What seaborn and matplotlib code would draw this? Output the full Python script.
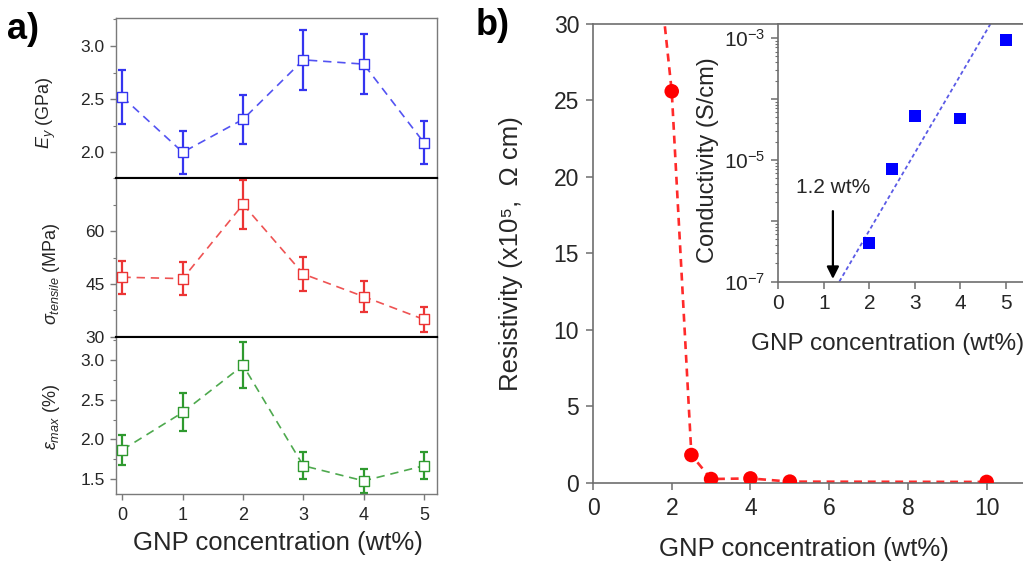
import numpy as np
import pandas as pd
import matplotlib
matplotlib.use('Agg')
import matplotlib.pyplot as plt
import seaborn as sns
from matplotlib.ticker import MultipleLocator, LogLocator, NullFormatter, FuncFormatter

sns.set_theme(style='ticks')
plt.rcParams['font.family'] = ['Liberation Sans', 'DejaVu Sans']
plt.rcParams['mathtext.fontset'] = 'custom'
plt.rcParams['mathtext.rm'] = 'Liberation Sans'
plt.rcParams['mathtext.it'] = 'Liberation Sans:italic'
plt.rcParams['mathtext.bf'] = 'Liberation Sans:bold'

# ---------------- data ----------------
gnp_a = [0, 1, 2, 3, 4, 5]
ey = [2.52, 2.00, 2.31, 2.87, 2.83, 2.09]
ey_err = [0.25, 0.20, 0.23, 0.28, 0.28, 0.20]
sigma = [46.9, 46.5, 67.6, 47.8, 41.4, 34.9]
sigma_err = [4.7, 4.6, 7.0, 4.8, 4.3, 3.5]
eps = [1.87, 2.34, 2.93, 1.67, 1.48, 1.67]
eps_err = [0.19, 0.24, 0.29, 0.17, 0.15, 0.17]

gnp_res = [1.0, 2.0, 2.5, 3.0, 4.0, 5.0, 10.0]
resistivity = [50.0, 25.6, 1.81, 0.24, 0.28, 0.07, 0.05]

gnp_cond = [2.0, 2.5, 3.0, 4.0, 5.0]
conductivity = [4.3e-7, 7.1e-6, 5.2e-5, 4.8e-5, 9.2e-4]
fit_x = [1.34, 4.7]
fit_cond = [1.0e-7, 1.9e-3]
threshold = 1.2

a_xticks = [0, 1, 2, 3, 4, 5]
b_xticks = [0, 2, 4, 6, 8, 10]
b_yticks = [0, 5, 10, 15, 20, 25, 30]
in_xticks = [0, 1, 2, 3, 4, 5]

# ---------------- layout ----------------
W, H = 1023, 561
fig = plt.figure(figsize=(W / 100, H / 100), dpi=100)


def rect(l, t, r, b):
    return [l / W, 1 - b / H, (r - l) / W, (b - t) / H]


SP = '#7a7a7a'
TXT = '#262626'

ax1 = fig.add_axes(rect(115.8, 18, 437, 178.3))
ax2 = fig.add_axes(rect(115.8, 178.3, 437, 336.7))
ax3 = fig.add_axes(rect(115.8, 336.7, 437, 494))

panels = [
    (ax1, ey, ey_err, '#3535f0', (1.755, 3.264), [2.0, 2.5, 3.0], 0.25, '$E_y$ (GPa)', (-0.18, 0.41)),
    (ax2, sigma, sigma_err, '#ec3535', (30, 75), [30, 45, 60], 7.5, r'$\sigma_{tensile}$ (MPa)', (-0.168, 0.40)),
    (ax3, eps, eps_err, '#2f9a2f', (1.315, 3.29), [1.5, 2.0, 2.5, 3.0], 0.25, r'$\varepsilon_{max}$ (%)', (-0.168, 0.49)),
]

for ax, vals, errs, col, ylim, yt, minor, lab, lc in panels:
    df = pd.DataFrame({'x': gnp_a, 'y': vals})
    ax.errorbar(gnp_a, vals, yerr=errs, fmt='none', ecolor=col, elinewidth=1.6,
                capsize=2.6, capthick=1.6, zorder=2)
    sns.lineplot(data=df, x='x', y='y', ax=ax, color=col, lw=1.2, alpha=0.85,
                 linestyle=(0, (5, 3.5)), zorder=3)
    sns.scatterplot(data=df, x='x', y='y', ax=ax, marker='s', s=52, facecolor='white',
                    edgecolor=col, linewidth=1.0, zorder=4)
    ax.set_xlim(-0.11, 5.216)
    ax.set_ylim(*ylim)
    ax.set_yticks(yt)
    ax.yaxis.set_minor_locator(MultipleLocator(minor))
    ax.set_xticks(a_xticks)
    ax.set_ylabel(lab, fontsize=13, color=TXT)
    ax.yaxis.set_label_coords(*lc)
    ax.set_xlabel('')
    for s in ax.spines.values():
        s.set_color(SP)
        s.set_linewidth(1.0)
    ax.tick_params(axis='y', which='major', direction='out', length=4, width=1, color=SP,
                   labelsize=12.5, labelcolor=TXT, pad=4)
    ax.tick_params(axis='y', which='minor', direction='out', length=2.5, width=0.8, color=SP)
    ax.tick_params(axis='x', which='major', direction='out', length=4, width=1, color=SP,
                   labelsize=13, labelcolor=TXT, pad=5)

for ax in (ax1, ax2):
    ax.tick_params(axis='x', bottom=False, labelbottom=False)
ax1.spines['bottom'].set_color('black'); ax1.spines['bottom'].set_linewidth(1.5)
ax2.spines['top'].set_color('black'); ax2.spines['top'].set_linewidth(1.5)
ax2.spines['bottom'].set_color('black'); ax2.spines['bottom'].set_linewidth(1.5)
ax3.spines['top'].set_color('black'); ax3.spines['top'].set_linewidth(1.5)

ax3.set_xlabel('GNP concentration (wt%)', fontsize=18.5, color=TXT)
ax3.xaxis.set_label_coords(0.505, -0.235)

fig.text(7 / W, 1 - 12 / H, 'a)', fontsize=26, fontweight='bold', va='top', ha='left', color='black')
fig.text(476 / W, 1 - 8 / H, 'b)', fontsize=26, fontweight='bold', va='top', ha='left', color='black')

# ---------------- panel b main ----------------
axb = fig.add_axes(rect(593, 24, 1026, 482.7))
dfr = pd.DataFrame({'x': gnp_res, 'y': resistivity})
sns.lineplot(data=dfr, x='x', y='y', ax=axb, color='#ff2a2a', lw=1.9,
             linestyle=(0, (3, 2.2)), zorder=2)
sns.scatterplot(data=dfr, x='x', y='y', ax=axb, color='#ff0000', s=110, edgecolor='none',
                marker='o', zorder=3, clip_on=True)
axb.set_xlim(0, 11)
axb.set_ylim(0, 30)
axb.set_xticks(b_xticks)
axb.set_yticks(b_yticks)
for s in axb.spines.values():
    s.set_color('#6e6e6e')
    s.set_linewidth(1.2)
axb.tick_params(direction='out', length=5, width=1.1, color='#6e6e6e', labelsize=16.5,
                labelcolor=TXT, pad=5)
axb.set_xlabel('GNP concentration (wt%)', fontsize=18.5, color=TXT)
axb.xaxis.set_label_coords(0.487, -0.118)
axb.set_ylabel('Resistivity (x10\u2075,  \u03a9 cm)', fontsize=18.5, color=TXT)
axb.yaxis.set_label_coords(-0.162, 0.5)

# ---------------- inset ----------------
axi = fig.add_axes(rect(778.3, 24, 1051.3, 281.7))
axi.set_facecolor('white')
axi.set_zorder(5)
dfc = pd.DataFrame({'x': gnp_cond, 'y': conductivity})
dff = pd.DataFrame({'x': fit_x, 'y': fit_cond})
sns.lineplot(data=dff, x='x', y='y', ax=axi, color='#5a5ae6', lw=1.3,
             linestyle=(0, (2.2, 1.6)), zorder=2)
sns.scatterplot(data=dfc, x='x', y='y', ax=axi, color='#0000ff', marker='s', s=70,
                edgecolor='none', zorder=3)
axi.set_yscale('log')
axi.set_xlim(0, 6)
axi.set_ylim(1e-7, 10 ** -2.77)
axi.set_xticks(in_xticks)
axi.yaxis.set_major_locator(LogLocator(base=10, numticks=10))
axi.yaxis.set_minor_locator(LogLocator(base=10, subs=np.arange(2, 10), numticks=20))
axi.yaxis.set_minor_formatter(NullFormatter())


def _fmt(v, pos):
    e = int(round(np.log10(v)))
    return '$10^{%d}$' % e if e % 2 != 0 else ''


axi.yaxis.set_major_formatter(FuncFormatter(_fmt))
for s in axi.spines.values():
    s.set_color('#6e6e6e')
    s.set_linewidth(1.2)
axi.tick_params(axis='both', which='major', direction='out', length=5, width=1.1,
                color='#6e6e6e', labelsize=15, labelcolor=TXT, pad=4)
axi.tick_params(axis='y', which='minor', direction='out', length=2.5, width=0.8, color='#6e6e6e')
axi.set_xlabel('GNP concentration (wt%)', fontsize=17.5, color=TXT)
axi.xaxis.set_label_coords(0.402, -0.2)
axi.set_ylabel('Conductivity (S/cm)', fontsize=17, color=TXT)
axi.yaxis.set_label_coords(-0.217, 0.472)

axi.annotate('', xy=(threshold, 1e-7), xytext=(threshold, 1.6e-6),
             arrowprops=dict(arrowstyle='-|>', color='black', lw=1.6, mutation_scale=18),
             zorder=6)
axi.text(threshold, 2.5e-6, '1.2 wt%', ha='center', va='bottom', fontsize=15, color=TXT)

fig.savefig('out.png', dpi=100)
